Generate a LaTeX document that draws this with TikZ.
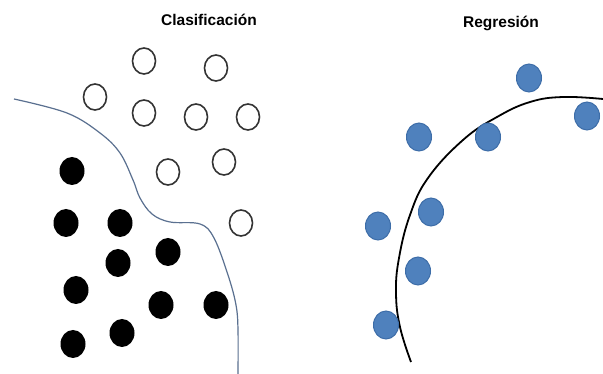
\documentclass[tikz,border=0pt]{standalone}
\usepackage{fontspec}
\setmainfont{Liberation Sans}
\usetikzlibrary{shapes.geometric}
\definecolor{dotblue}{HTML}{4F81BD}
\definecolor{dotedge}{HTML}{3D6DA8}
\definecolor{bound}{HTML}{5A7090}
\tikzset{
  title/.style={font=\bfseries\fontsize{15.5}{18}\selectfont, inner sep=0pt, anchor=base},
  open/.style={ellipse, draw=black!80, line width=1.6pt, minimum width=23pt, minimum height=26pt, inner sep=0pt},
  full/.style={ellipse, fill=black, minimum width=25pt, minimum height=28pt, inner sep=0pt},
  blue/.style={ellipse, fill=dotblue, draw=dotedge, line width=1pt, minimum width=25pt, minimum height=28pt, inner sep=0pt}
}
\begin{document}
\begin{tikzpicture}[x=1pt,y=-1pt]
\useasboundingbox[fill=white] (0,0) rectangle (603,374);
% titles
\node[title] (t1) at (209,26) {Clasificación};
\node[title] (t2) at (501,28) {Regresión};
% open circles
\node[open] (o1) at (144,61) {};
\node[open] (o2) at (216,68) {};
\node[open] (o3) at (95,97) {};
\node[open] (o4) at (144,113) {};
\node[open] (o5) at (196,117) {};
\node[open] (o6) at (248,117) {};
\node[open] (o7) at (224,162) {};
\node[open] (o8) at (168,172) {};
\node[open] (o9) at (241,223) {};
% filled circles
\node[full] (f1) at (72,171) {};
\node[full] (f2) at (66,223) {};
\node[full] (f3) at (120,223) {};
\node[full] (f4) at (168,252) {};
\node[full] (f5) at (118,263) {};
\node[full] (f6) at (76,290) {};
\node[full] (f7) at (161,305) {};
\node[full] (f8) at (216,305) {};
\node[full] (f9) at (122,333) {};
\node[full] (f10) at (73,344) {};
% boundary
\draw[bound, line width=1.2pt] plot[smooth, tension=0.6] coordinates {(14,99) (67,113) (100,133) (120,153) (133,180) (140,198) (152,214) (170,222) (200,224) (214,238) (228,275) (236,305) (238,330) (238,374)};
% regression curve
\draw[black, line width=1.8pt] plot[smooth, tension=0.7] coordinates {(411,362) (400,327) (396,293) (399,258) (410,215) (428,178) (463,140) (497,117) (530,102) (563,97) (603,99)};
% blue dots
\node[blue] (b1) at (529,78) {};
\node[blue] (b2) at (587,116) {};
\node[blue] (b3) at (419,137) {};
\node[blue] (b4) at (488,137) {};
\node[blue] (b5) at (378,226) {};
\node[blue] (b6) at (431,212) {};
\node[blue] (b7) at (418,271) {};
\node[blue] (b8) at (386,325) {};
\end{tikzpicture}
\end{document}
